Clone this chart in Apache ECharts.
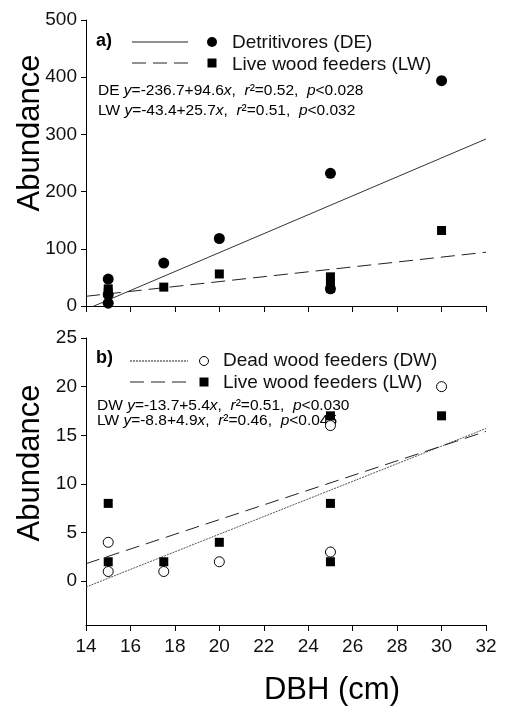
<!DOCTYPE html>
<html>
<head>
<meta charset="utf-8">
<script src="https://cdn.jsdelivr.net/npm/echarts@6/dist/echarts.min.js"></script>
<style>
html,body{margin:0;padding:0;background:#fff;}
#chart{width:514px;height:708px;}
</style>
</head>
<body>
<div id="chart"></div>
<script>
// ---- data ----
var xTicks = [14, 16, 18, 20, 22, 24, 26, 28, 30, 32];
var topYTicks = [0, 100, 200, 300, 400, 500];
var botYTicks = [0, 5, 10, 15, 20, 25];

// Panel a)
var deDBH = [15, 15, 15, 17.5, 20, 25, 25, 30];
var deAbund = [47, 20, 5, 75, 118, 232, 30, 394];
var lwTopDBH = [15, 15, 17.5, 20, 25, 25, 25, 30];
var lwTopAbund = [30, 23, 33, 56, 51, 40, 31, 132];
var deFitX = [14, 32];
var deFitY = [-6, 292];
var lwTopFitX = [14, 32];
var lwTopFitY = [17, 94];

// Panel b)
var dwDBH = [15, 15, 17.5, 20, 25, 25, 30];
var dwAbund = [4, 1, 1, 2, 16, 3, 20];
var lwBotDBH = [15, 15, 17.5, 20, 25, 25, 25, 30];
var lwBotAbund = [8, 2, 2, 4, 17, 8, 2, 17];
var dwFitX = [14, 32];
var dwFitY = [-0.6, 15.7];
var lwBotFitX = [14, 32];
var lwBotFitY = [1.8, 15.4];

function pairs(xs, ys) { return xs.map(function (x, i) { return [x, ys[i]]; }); }

var FONT = "'Liberation Sans', Arial, sans-serif";
var chart = echarts.init(document.getElementById('chart'), null, {renderer: 'canvas'});

function xAxisCfg(grid, showLabels) {
  return {
    gridIndex: grid, type: 'value', min: xTicks[0], max: xTicks[xTicks.length - 1], interval: 2,
    axisLine: {show: true, onZero: false, lineStyle: {color: '#000', width: 1}},
    axisTick: {show: true, inside: false, length: 6, lineStyle: {color: '#000'}},
    axisLabel: {show: showLabels, color: '#111', fontFamily: FONT, fontSize: 19, margin: 12},
    splitLine: {show: false}
  };
}
function yAxisCfg(grid, min, max, ticks) {
  return {
    gridIndex: grid, type: 'value', min: min, max: max,
    axisLine: {show: true, onZero: false, lineStyle: {color: '#000', width: 1}},
    axisTick: {show: true, inside: false, length: 5, lineStyle: {color: '#000'}, customValues: ticks},
    axisLabel: {show: true, color: '#111', fontFamily: FONT, fontSize: 19, margin: 9, customValues: ticks},
    splitLine: {show: false}
  };
}

function fitLine(xi, yi, xs, ys, type, color) {
  return {
    type: 'line', xAxisIndex: xi, yAxisIndex: yi, data: pairs(xs, ys), symbol: 'none',
    clip: true, silent: true, z: 1,
    lineStyle: {color: color, width: 1, type: type}
  };
}
function scatter(xi, yi, xs, ys, symbol, size, filled, z) {
  return {
    type: 'scatter', xAxisIndex: xi, yAxisIndex: yi, data: pairs(xs, ys), symbol: symbol,
    symbolSize: size, z: z, clip: false,
    itemStyle: filled ? {color: '#000', opacity: 1} : {color: '#fff', borderColor: '#000', borderWidth: 1, opacity: 1}
  };
}

var eqRich = {
  n: {fontFamily: FONT, fontSize: 15.5, color: '#111'},
  i: {fontFamily: FONT, fontSize: 15.5, color: '#111', fontStyle: 'italic'}
};
function eqText(x, y, parts) {
  return {type: 'text', x: x, y: y, silent: true,
    style: {text: parts, rich: eqRich, verticalAlign: 'middle', align: 'left', fontFamily: FONT, fontSize: 15.5}};
}
function legendText(x, y, str) {
  return {type: 'text', x: x, y: y, silent: true,
    style: {text: str, fontFamily: FONT, fontSize: 19, fill: '#111', verticalAlign: 'middle', align: 'left'}};
}
function legLine(x1, x2, y, dash) {
  return {type: 'line', silent: true, shape: {x1: x1, y1: y, x2: x2, y2: y},
    style: {stroke: '#222', lineWidth: 1, lineDash: dash}};
}

var option = {
  animation: false,
  backgroundColor: '#fff',
  grid: [
    {left: 86, top: 20, width: 400, height: 286},
    {left: 86, top: 338, width: 400, height: 287}
  ],
  xAxis: [xAxisCfg(0, false), xAxisCfg(1, true)],
  yAxis: [yAxisCfg(0, 0, 500, topYTicks), yAxisCfg(1, -4.5, 25, botYTicks)],
  series: [
    fitLine(0, 0, deFitX, deFitY, 'solid', '#333'),
    fitLine(0, 0, lwTopFitX, lwTopFitY, [14, 7], '#222'),
    scatter(0, 0, deDBH, deAbund, 'circle', 11, true, 3),
    scatter(0, 0, lwTopDBH, lwTopAbund, 'rect', 9, true, 4),
    fitLine(1, 1, dwFitX, dwFitY, [2, 1], '#555'),
    fitLine(1, 1, lwBotFitX, lwBotFitY, [14, 7], '#222'),
    scatter(1, 1, dwDBH, dwAbund, 'circle', 10, false, 3),
    scatter(1, 1, lwBotDBH, lwBotAbund, 'rect', 9, true, 4)
  ],
  graphic: [
    // axis titles
    {type: 'text', x: 30, y: 133, rotation: Math.PI / 2, silent: true,
      style: {text: 'Abundance', fontFamily: FONT, fontSize: 31, fill: '#000', align: 'center', verticalAlign: 'middle'}},
    {type: 'text', x: 30, y: 463, rotation: Math.PI / 2, silent: true,
      style: {text: 'Abundance', fontFamily: FONT, fontSize: 31, fill: '#000', align: 'center', verticalAlign: 'middle'}},
    {type: 'text', x: 332, y: 690, silent: true,
      style: {text: 'DBH (cm)', fontFamily: FONT, fontSize: 31, fill: '#000', align: 'center', verticalAlign: 'middle'}},
    // panel a legend
    {type: 'text', x: 96, y: 41, silent: true,
      style: {text: 'a)', fontFamily: FONT, fontSize: 18, fontWeight: 'bold', fill: '#000', verticalAlign: 'middle'}},
    legLine(132, 188, 42, null),
    {type: 'circle', silent: true, shape: {cx: 212, cy: 42, r: 5}, style: {fill: '#000'}},
    legendText(232, 43, 'Detritivores (DE)'),
    legLine(132, 188, 63, [14, 7]),
    {type: 'rect', silent: true, shape: {x: 207.5, y: 58.5, width: 9, height: 9}, style: {fill: '#000'}},
    legendText(232, 65, 'Live wood feeders (LW)'),
    eqText(98, 91, '{n|DE }{i|y}{n|=-236.7+94.6}{i|x}{n|,  }{i|r}{n|²=0.52,  }{i|p}{n|<0.028}'),
    eqText(98, 111, '{n|LW }{i|y}{n|=-43.4+25.7}{i|x}{n|,  }{i|r}{n|²=0.51,  }{i|p}{n|<0.032}'),
    // panel b legend
    {type: 'text', x: 96, y: 358, silent: true,
      style: {text: 'b)', fontFamily: FONT, fontSize: 18, fontWeight: 'bold', fill: '#000', verticalAlign: 'middle'}},
    legLine(130, 188, 361, [2, 1]),
    {type: 'circle', silent: true, shape: {cx: 204, cy: 361, r: 4.5}, style: {fill: '#fff', stroke: '#000', lineWidth: 1}},
    legendText(223, 361, 'Dead wood feeders (DW)'),
    legLine(130, 188, 382, [14, 7]),
    {type: 'rect', silent: true, shape: {x: 199.5, y: 377.5, width: 9, height: 9}, style: {fill: '#000'}},
    legendText(223, 383, 'Live wood feeders (LW)'),
    eqText(97, 406, '{n|DW }{i|y}{n|=-13.7+5.4}{i|x}{n|,  }{i|r}{n|²=0.51,  }{i|p}{n|<0.030}'),
    eqText(97, 421, '{n|LW }{i|y}{n|=-8.8+4.9}{i|x}{n|,  }{i|r}{n|²=0.46,  }{i|p}{n|<0.045}')
  ]
};
chart.setOption(option);
</script>
</body>
</html>
